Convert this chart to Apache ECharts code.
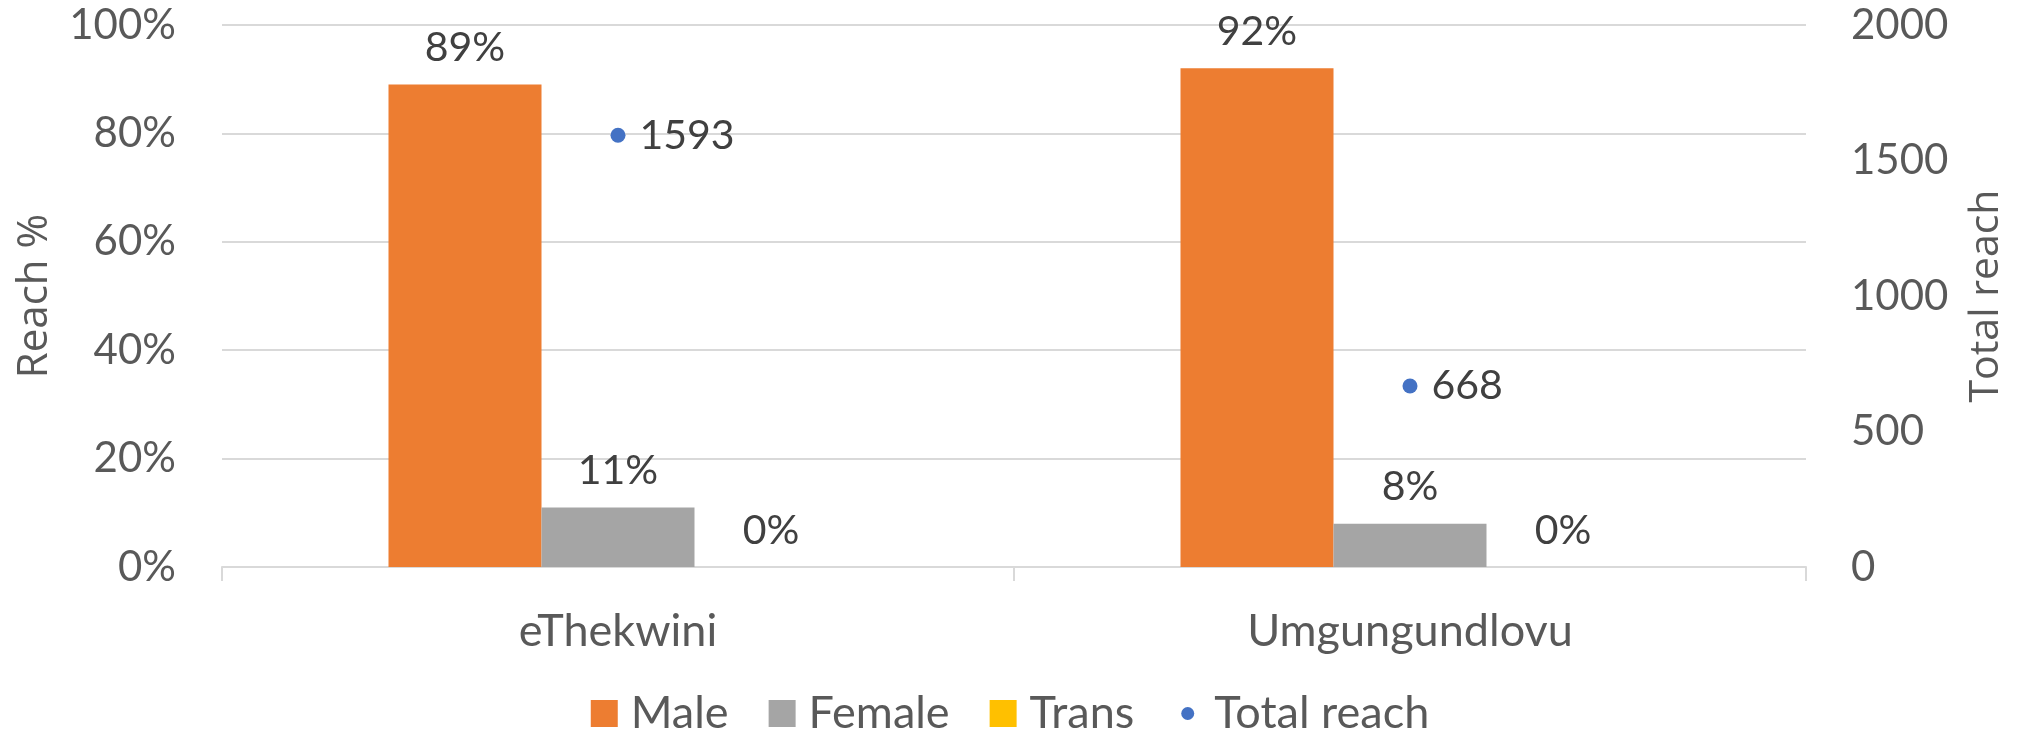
<!DOCTYPE html>
<html>
<head>
<meta charset="utf-8">
<title>Reach by district</title>
<script src="https://cdn.jsdelivr.net/npm/echarts@6/dist/echarts.min.js"></script>
<style>
    html, body {
        margin: 0;
        padding: 0;
        background: #ffffff;
    }

    #reach {
        width: 2020px;
        height: 730px;
    }
</style>
</head>
<body>
<div id="reach"></div>
<script>
// 数据
var districts = ['eThekwini', 'Umgungundlovu'];
var malePct = [89, 92];
var femalePct = [11, 8];
var transPct = [0, 0];
var totalReach = [1593, 668];
var pctTicks = [0, 20, 40, 60, 80, 100];
var reachTicks = [0, 500, 1000, 1500, 2000];

var fontMain = 'Lato, "Liberation Sans", sans-serif';
var fontTitle = '"Open Sans", "Noto Sans", sans-serif';

// 图例里的小圆点
var dotSvg = '<svg xmlns="http://www.w3.org/2000/svg" width="27" height="27">' +
    '<circle cx="13.5" cy="13.5" r="6.5" fill="#4472c4"/></svg>';
var dotIcon = 'image://data:image/svg+xml;charset=utf-8,' + encodeURIComponent(dotSvg);

function barLabel() {
    return {
        show: true,
        position: 'top',
        distance: 16,
        color: '#404040',
        fontSize: 41,
        fontFamily: fontMain,
        formatter: '{c}%'
    };
}

var myChart = echarts.init(document.getElementById('reach'));
myChart.setOption({
    backgroundColor: '#ffffff',
    animation: false,
    grid: {
        left: 222,
        right: 214,
        top: 25,
        bottom: 163,
        containLabel: false,
        outerBoundsMode: 'none'
    },
    legend: {
        top: 686,
        left: 'center',
        itemWidth: 27,
        itemHeight: 27,
        itemGap: 40,
        itemStyle: { borderWidth: 0 },
        textStyle: {
            color: '#595959',
            fontSize: 45,
            fontFamily: fontMain,
            padding: [0, 0, 0, 8]
        },
        data: [
            { name: 'Male', icon: 'rect' },
            { name: 'Female', icon: 'rect' },
            // Trans 后面的间距稍大
            { name: 'Trans', icon: 'rect', textStyle: { padding: [0, 16, 0, 8] } },
            { name: 'Total reach', icon: dotIcon }
        ]
    },
    xAxis: {
        type: 'category',
        data: districts,
        axisLine: { lineStyle: { color: '#d9d9d9', width: 2 } },
        axisTick: { show: true, length: 14, lineStyle: { color: '#d9d9d9', width: 2 } },
        axisLabel: {
            color: '#595959',
            fontSize: 45,
            fontFamily: fontMain,
            margin: 42
        }
    },
    yAxis: [
        {
            type: 'value',
            min: pctTicks[0],
            max: pctTicks[pctTicks.length - 1],
            interval: pctTicks[1] - pctTicks[0],
            name: 'Reach %',
            nameLocation: 'middle',
            nameRotate: 90,
            nameGap: 166,
            nameTextStyle: {
                color: '#595959',
                fontSize: 42,
                fontFamily: fontTitle
            },
            axisLine: { show: false },
            axisTick: { show: false },
            axisLabel: {
                color: '#595959',
                fontSize: 42,
                fontFamily: fontMain,
                margin: 46,
                formatter: '{value}%'
            },
            splitLine: { lineStyle: { color: '#d9d9d9', width: 2 } }
        },
        {
            type: 'value',
            min: reachTicks[0],
            max: reachTicks[reachTicks.length - 1],
            interval: reachTicks[1] - reachTicks[0],
            name: 'Total reach',
            nameLocation: 'middle',
            nameRotate: 90,
            nameGap: 160,
            nameTextStyle: {
                color: '#595959',
                fontSize: 41,
                fontFamily: fontTitle
            },
            axisLine: { show: false },
            axisTick: { show: false },
            axisLabel: {
                color: '#595959',
                fontSize: 42,
                fontFamily: fontMain,
                margin: 45,
                formatter: function (v) { return String(v); }
            },
            splitLine: { show: false }
        }
    ],
    series: [
        {
            name: 'Male',
            type: 'bar',
            data: malePct,
            barWidth: 153,
            barGap: '0%',
            itemStyle: { color: '#ed7d31' },
            label: barLabel()
        },
        {
            name: 'Female',
            type: 'bar',
            data: femalePct,
            barWidth: 153,
            barGap: '0%',
            itemStyle: { color: '#a5a5a5' },
            label: barLabel()
        },
        {
            name: 'Trans',
            type: 'bar',
            data: transPct,
            barWidth: 153,
            barGap: '0%',
            itemStyle: { color: '#ffc000' },
            label: barLabel()
        },
        {
            name: 'Total reach',
            type: 'scatter',
            yAxisIndex: 1,
            data: totalReach,
            symbol: 'circle',
            symbolSize: 15,
            z: 5,
            itemStyle: { color: '#4472c4', opacity: 1 },
            label: {
                show: true,
                position: 'right',
                distance: 14,
                color: '#404040',
                fontSize: 41,
                fontFamily: fontMain
            }
        }
    ]
});
</script>
</body>
</html>
